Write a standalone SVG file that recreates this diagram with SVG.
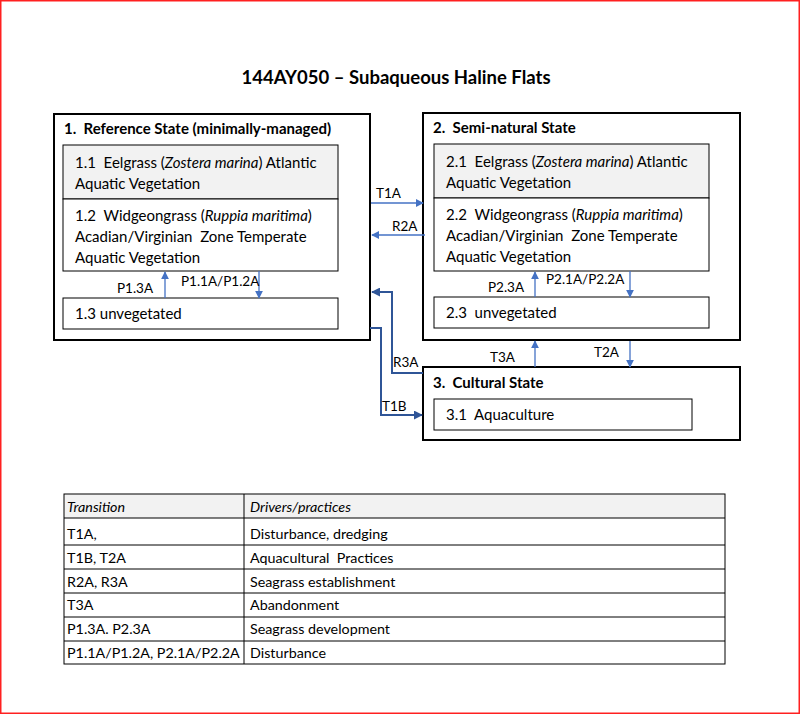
<svg xmlns="http://www.w3.org/2000/svg" width="800" height="714" viewBox="0 0 800 714">
<style>
text{font-family:Lato,"Open Sans","Liberation Sans",sans-serif;font-size:15px;fill:#000;white-space:pre}
.h{font-weight:bold}
.t{font-size:18.5px;font-weight:bold}
.l{font-size:13.5px}
.r{font-size:14.3px}
.st{fill:#fff;stroke:#000;stroke-width:2}
.ph{fill:#fff;stroke:#000;stroke-width:1}
.ph.g{fill:#f2f2f2}
.c{fill:none;stroke:#4472c4;stroke-width:1.3}
.d{fill:none;stroke:#2f5597;stroke-width:2}
.tb{fill:none;stroke:#000;stroke-width:1}
.it{font-style:italic}
</style>
<defs>
<marker id="a" viewBox="0 0 10 10" refX="9" refY="5" markerWidth="8" markerHeight="8" markerUnits="userSpaceOnUse" orient="auto"><path d="M0,0 L10,5 L0,10 z" fill="#4472c4"/></marker>
<marker id="b" viewBox="0 0 10 10" refX="9" refY="5" markerWidth="9" markerHeight="9" markerUnits="userSpaceOnUse" orient="auto"><path d="M0,0 L10,5 L0,10 z" fill="#2f5597"/></marker>
</defs>
<rect x="0.75" y="0.75" width="798.5" height="712.5" fill="#fff" stroke="#ff2020" stroke-width="1.5"/>
<text class="t" x="396" y="84" text-anchor="middle">144AY050 – Subaqueous Haline Flats</text>

<g id="state1">
<rect class="st" x="54" y="114" width="316" height="226"/>
<text class="h" x="64" y="134" xml:space="preserve">1.  Reference State (minimally-managed)</text>
</g>
<g id="p11"><rect class="ph g" x="63" y="145" width="275" height="54"/>
<text x="75" y="168" xml:space="preserve">1.1  Eelgrass (<tspan class="it">Zostera marina</tspan>) Atlantic</text>
<text x="75" y="189">Aquatic Vegetation</text></g>
<g id="p12"><rect class="ph" x="63" y="199" width="275" height="72"/>
<text x="75" y="221" xml:space="preserve">1.2  Widgeongrass (<tspan class="it">Ruppia maritima</tspan>)</text>
<text x="75" y="242" xml:space="preserve">Acadian/Virginian  Zone Temperate</text>
<text x="75" y="263">Aquatic Vegetation</text></g>
<g id="p13"><rect class="ph" x="63" y="298" width="275" height="31"/>
<text x="75" y="319">1.3 unvegetated</text></g>

<g id="state2">
<rect class="st" x="423" y="113" width="317" height="227"/>
<text class="h" x="433" y="133" xml:space="preserve">2.  Semi-natural State</text>
</g>
<g id="p21"><rect class="ph g" x="434" y="144" width="275" height="54"/>
<text x="446" y="167" xml:space="preserve">2.1  Eelgrass (<tspan class="it">Zostera marina</tspan>) Atlantic</text>
<text x="446" y="188">Aquatic Vegetation</text></g>
<g id="p22"><rect class="ph" x="434" y="198" width="275" height="73"/>
<text x="446" y="220" xml:space="preserve">2.2  Widgeongrass (<tspan class="it">Ruppia maritima</tspan>)</text>
<text x="446" y="241" xml:space="preserve">Acadian/Virginian  Zone Temperate</text>
<text x="446" y="262">Aquatic Vegetation</text></g>
<g id="p23"><rect class="ph" x="434" y="297" width="275" height="31"/>
<text x="446" y="318" xml:space="preserve">2.3  unvegetated</text></g>

<g id="state3">
<rect class="st" x="423" y="367" width="317" height="73"/>
<text class="h" x="433" y="388" xml:space="preserve">3.  Cultural State</text>
</g>
<g id="p31"><rect class="ph" x="434" y="399" width="258" height="31"/>
<text x="446" y="420" xml:space="preserve">3.1  Aquaculture</text></g>

<g id="connectors">
<line class="c" x1="165" y1="298" x2="165" y2="272" marker-end="url(#a)"/>
<line class="c" x1="259" y1="271" x2="259" y2="298" marker-end="url(#a)"/>
<line class="c" x1="535" y1="297" x2="535" y2="272" marker-end="url(#a)"/>
<line class="c" x1="630" y1="271" x2="630" y2="297" marker-end="url(#a)"/>
<line class="c" x1="371" y1="203" x2="423" y2="203" marker-end="url(#a)"/>
<line class="c" x1="425" y1="235" x2="372" y2="235" marker-end="url(#a)"/>
<line class="c" x1="535" y1="367" x2="535" y2="341" marker-end="url(#a)"/>
<line class="c" x1="630" y1="341" x2="630" y2="367" marker-end="url(#a)"/>
<polyline class="d" points="423,373 392,373 392,292 372,292" marker-end="url(#b)"/>
<polyline class="d" points="370,328 381,328 381,415 422,415" marker-end="url(#b)"/>
<text class="l" x="117" y="293">P1.3A</text>
<text class="l" x="181" y="286">P1.1A/P1.2A</text>
<text class="l" x="488" y="292">P2.3A</text>
<text class="l" x="546" y="284">P2.1A/P2.2A</text>
<text class="l" x="376" y="198">T1A</text>
<text class="l" x="392" y="231">R2A</text>
<text class="l" x="393" y="367">R3A</text>
<text class="l" x="382" y="411">T1B</text>
<text class="l" x="490" y="362">T3A</text>
<text class="l" x="594" y="357">T2A</text>
</g>

<g id="table">
<rect x="64" y="494" width="661" height="24" fill="#f2f2f2"/>
<rect class="tb" x="64" y="494" width="661" height="170"/>
<line class="tb" x1="244" y1="494" x2="244" y2="664"/>
<line class="tb" x1="64" y1="518" x2="725" y2="518"/>
<line class="tb" x1="64" y1="545" x2="725" y2="545"/>
<line class="tb" x1="64" y1="569" x2="725" y2="569"/>
<line class="tb" x1="64" y1="593" x2="725" y2="593"/>
<line class="tb" x1="64" y1="617" x2="725" y2="617"/>
<line class="tb" x1="64" y1="641" x2="725" y2="641"/>
<text class="r it" x="67" y="512">Transition</text>
<text class="r it" x="250" y="512">Drivers/practices</text>
<text class="r" x="67" y="539">T1A,</text><text class="r" x="250" y="539">Disturbance, dredging</text>
<text class="r" x="67" y="563">T1B, T2A</text><text class="r" x="250" y="563" xml:space="preserve">Aquacultural  Practices</text>
<text class="r" x="67" y="587">R2A, R3A</text><text class="r" x="250" y="587">Seagrass establishment</text>
<text class="r" x="67" y="610">T3A</text><text class="r" x="250" y="610">Abandonment</text>
<text class="r" x="67" y="634">P1.3A. P2.3A</text><text class="r" x="250" y="634">Seagrass development</text>
<text class="r" x="67" y="658">P1.1A/P1.2A, P2.1A/P2.2A</text><text class="r" x="250" y="658">Disturbance</text>
</g>
</svg>
